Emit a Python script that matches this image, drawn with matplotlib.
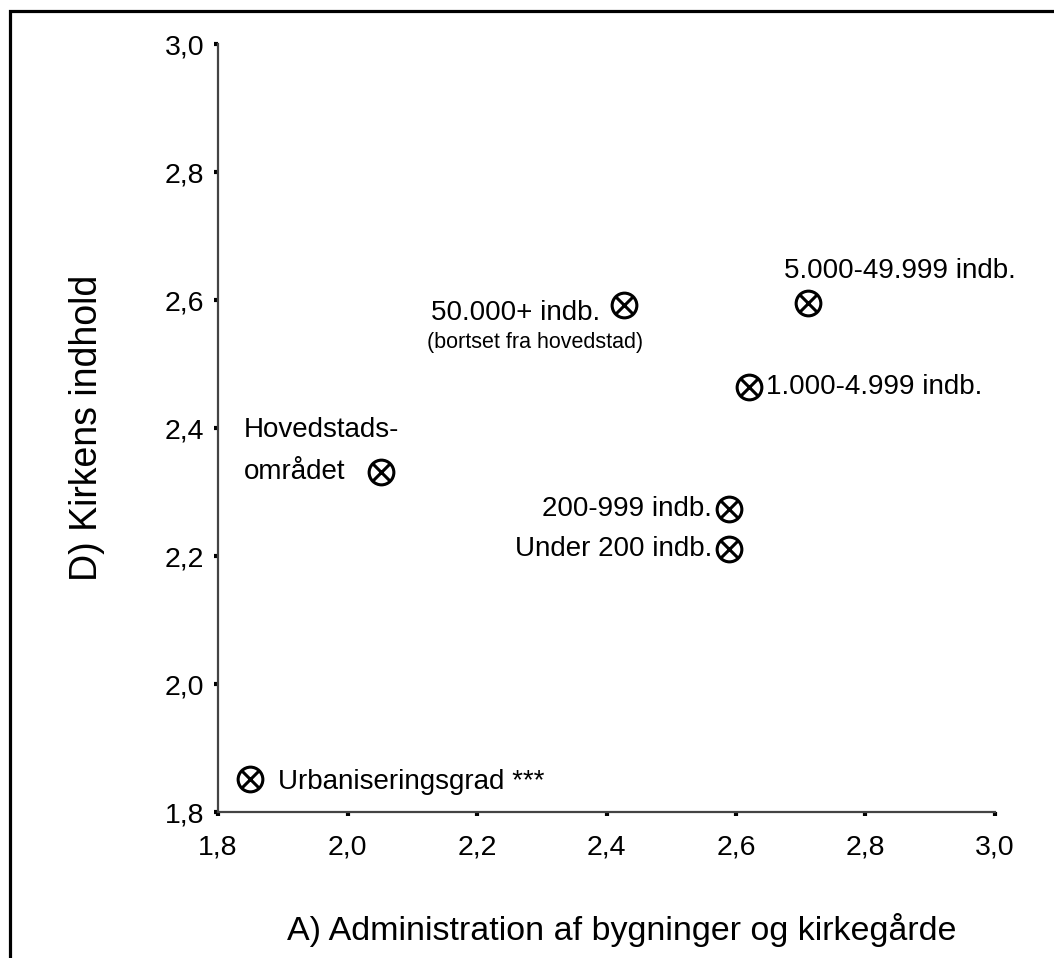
import matplotlib
matplotlib.use("Agg")
import matplotlib.pyplot as plt
from matplotlib.patches import Rectangle
from matplotlib.ticker import FuncFormatter

plt.rcParams['font.family'] = ['Liberation Sans', 'DejaVu Sans']

# data
groups = ["50.000+ indb.", "5.000-49.999 indb.", "1.000-4.999 indb.",
          "Hovedstads-\nområdet", "200-999 indb.", "Under 200 indb."]
adm = [2.427, 2.711, 2.620, 2.052, 2.589, 2.589]      # A) Administration
indhold = [2.592, 2.595, 2.464, 2.331, 2.273, 2.211]  # D) Kirkens indhold
ticks = [1.8, 2.0, 2.2, 2.4, 2.6, 2.8, 3.0]
key_label = "Urbaniseringsgrad ***"
note = "(bortset fra hovedstad)"

# label offsets in points and alignments
offsets = [(-17, -6), (-17, 23), (12, 0), (-99, 15), (-12, 0), (-12, 0)]
aligns = [("right", "center"), ("left", "center"), ("left", "center"),
          ("left", "center"), ("right", "center"), ("right", "center")]

fig = plt.figure(figsize=(10.54, 9.58), dpi=100)
ax = fig.add_axes([218 / 1054, 1 - 812 / 958, (995 - 218) / 1054, (812 - 44) / 958])

circ_kw = dict(marker='o', markersize=17.8, markerfacecolor='none',
               markeredgecolor='black', markeredgewidth=2.2, linestyle='none')
x_kw = dict(marker='x', markersize=12.4, markeredgecolor='black',
            markeredgewidth=2.2, linestyle='none')
h1, = ax.plot(adm, indhold, **circ_kw)
h2, = ax.plot(adm, indhold, **x_kw)

for lab, x, y, off, (ha, va) in zip(groups, adm, indhold, offsets, aligns):
    ax.annotate(lab, (x, y), xytext=off, textcoords='offset points',
                ha=ha, va=va, fontsize=20, linespacing=1.8)

# note under the 50.000+ label
ax.annotate(note, (adm[0], indhold[0]), xytext=(-142, -27),
            textcoords='offset points', ha='left', va='center', fontsize=15.5)

ax.legend([(h1, h2)], [key_label], loc='lower left', frameon=False,
          fontsize=20, handletextpad=0.3, handlelength=1.4,
          borderaxespad=0.3, bbox_to_anchor=(-0.009, -0.003))

ax.set_xlim(1.8, 3.0)
ax.set_ylim(1.8, 3.0)
ax.set_xticks(ticks)
ax.set_yticks(ticks)
fmt = FuncFormatter(lambda v, p: f"{v:.1f}".replace('.', ','))
ax.xaxis.set_major_formatter(fmt)
ax.yaxis.set_major_formatter(fmt)
ax.tick_params(direction='out', length=3, width=3, color='black',
               labelsize=20.5)
ax.tick_params(axis='x', pad=13)
ax.tick_params(axis='y', pad=7)

for s in ['top', 'right']:
    ax.spines[s].set_visible(False)
for s in ['left', 'bottom']:
    ax.spines[s].set_color('#444444')
    ax.spines[s].set_linewidth(1.6)

ax.set_xlabel("A) Administration af bygninger og kirkegårde", fontsize=24.5)
ax.xaxis.set_label_coords(0.519, -0.132)
ax.set_ylabel("D) Kirkens indhold", fontsize=27)
ax.yaxis.set_label_coords(-0.145, 0.5)

# outer frame (only left and top edges fall inside the image)
fig.add_artist(Rectangle((9.5 / 1054, -0.5), 2.0, 0.5 + 1 - 10.5 / 958,
                         transform=fig.transFigure, fill=False,
                         edgecolor='black', linewidth=2.3, clip_on=False))

fig.savefig("out.png", dpi=100)
